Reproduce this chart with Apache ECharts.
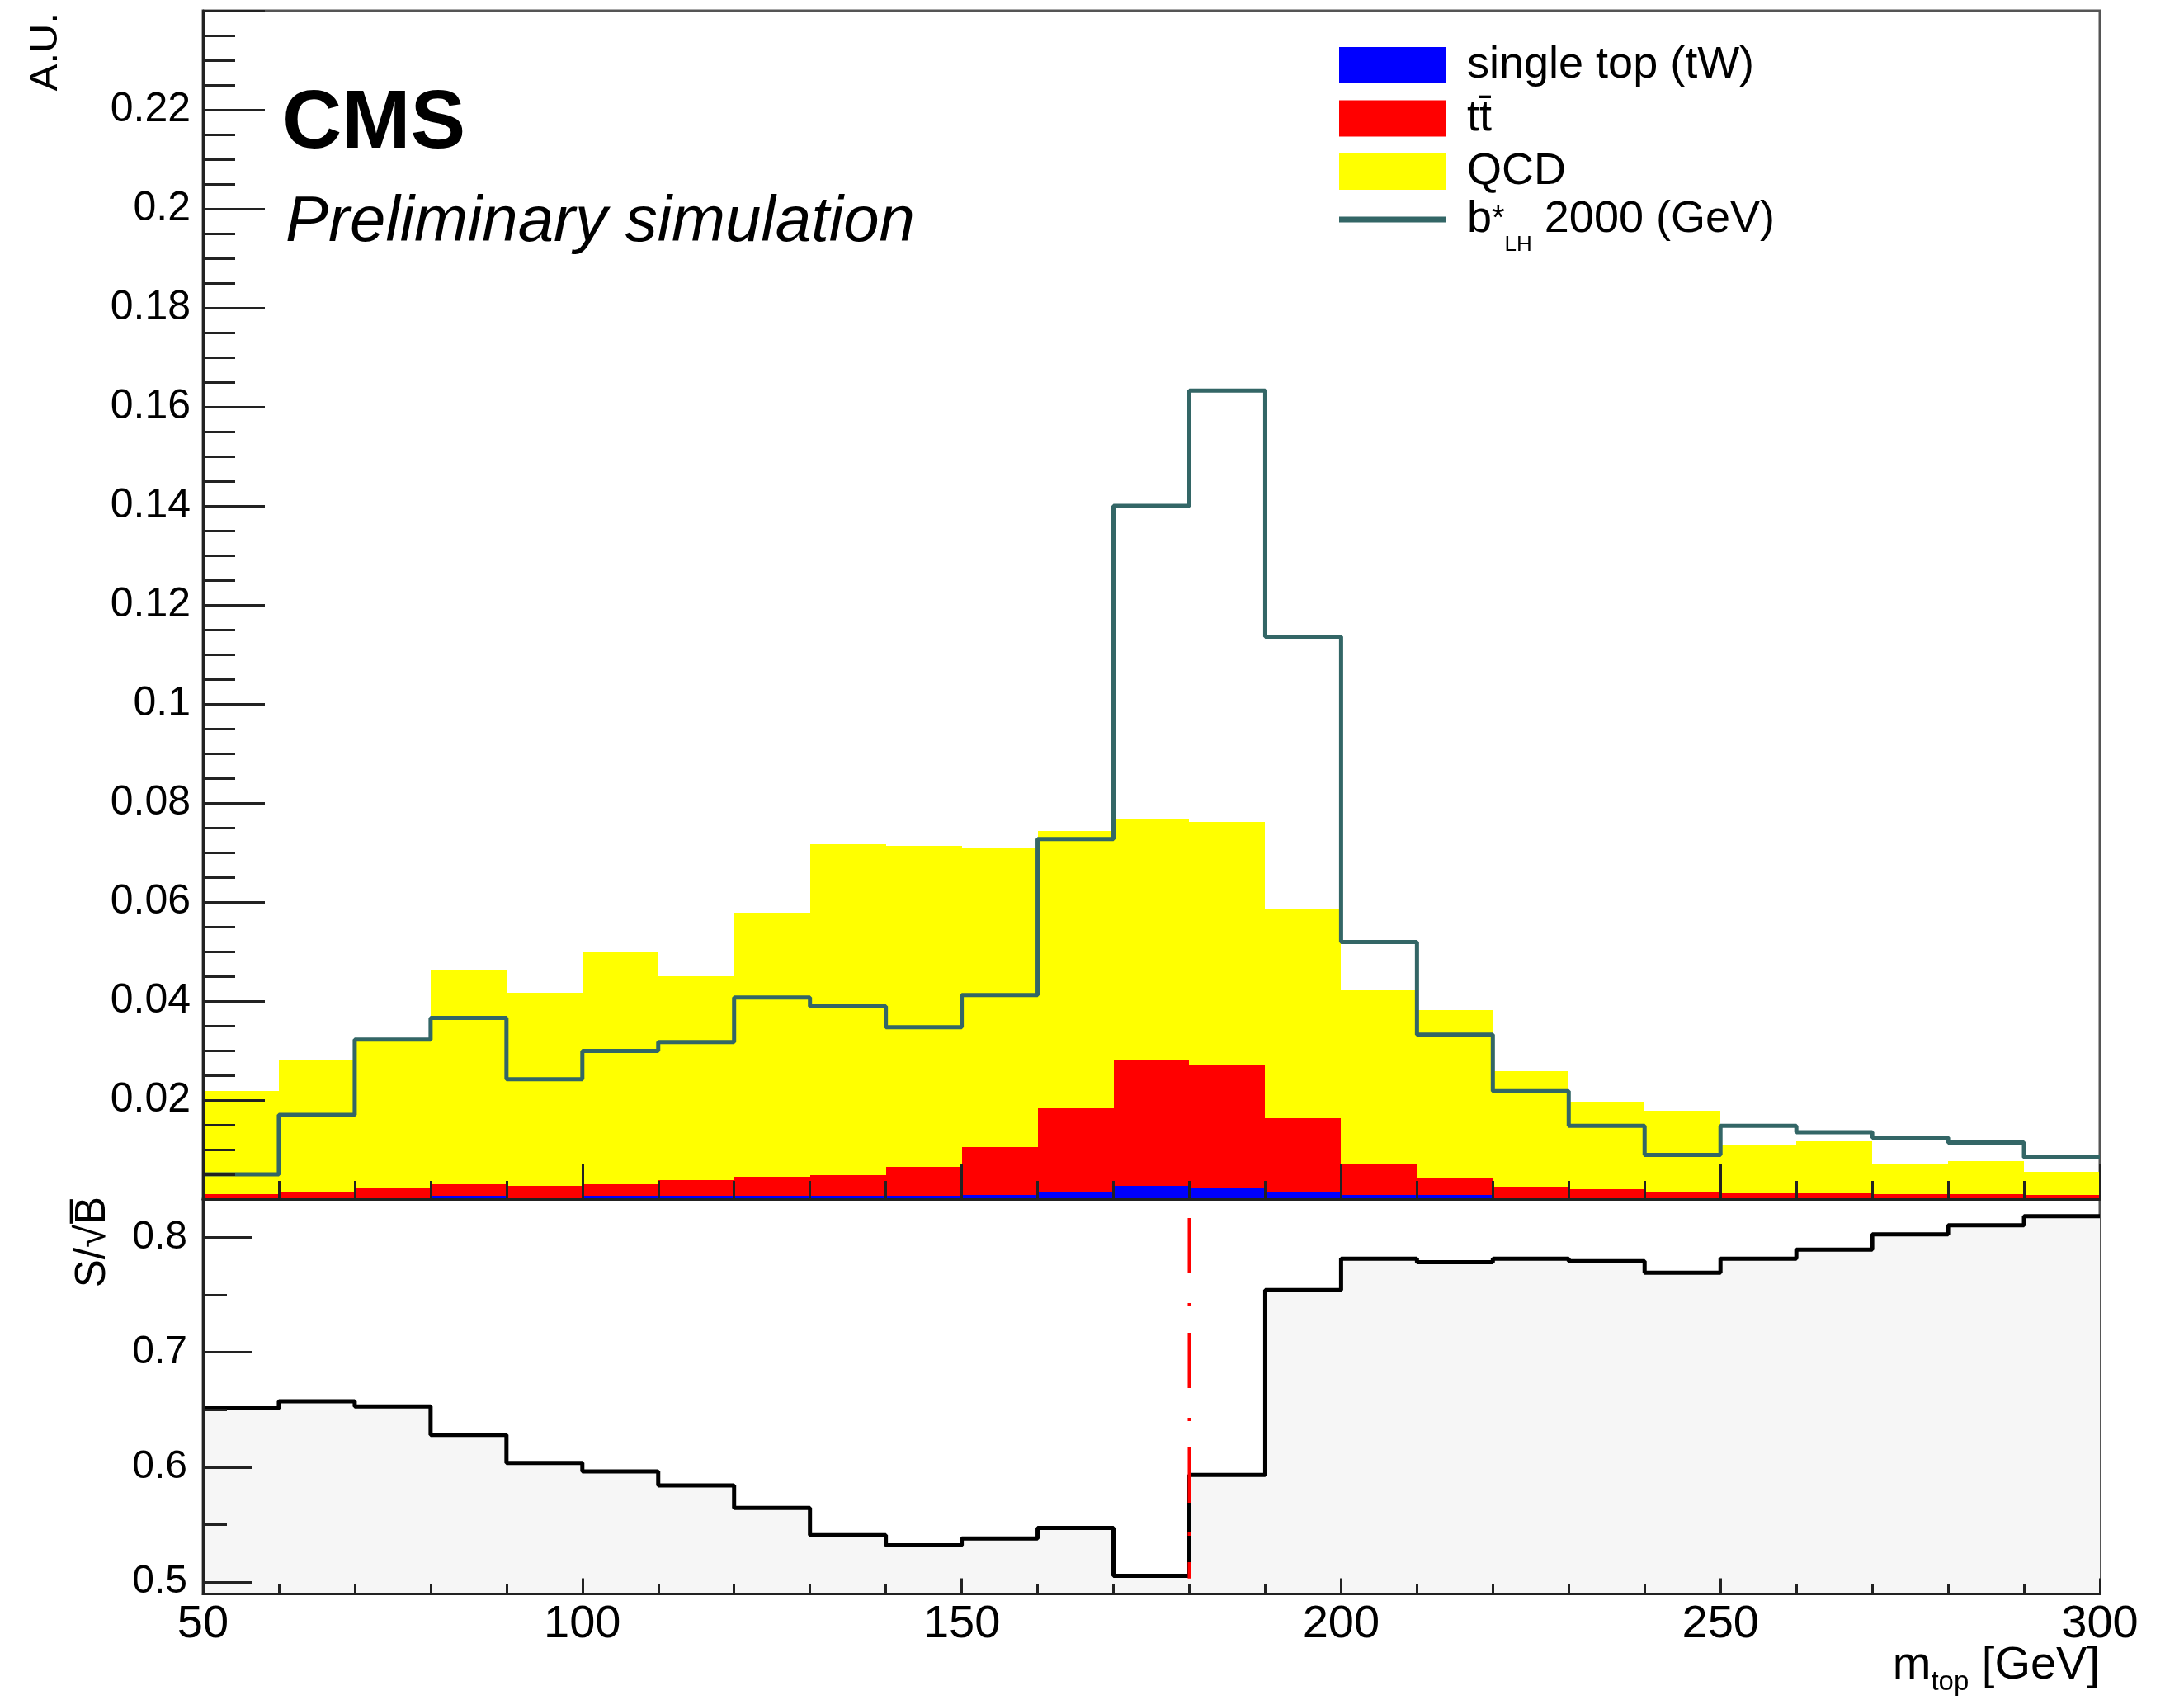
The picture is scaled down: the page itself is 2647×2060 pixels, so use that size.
<!DOCTYPE html>
<html>
<head>
<meta charset="utf-8">
<title>m_top stack and S/sqrt(B)</title>
<script src="https://cdn.jsdelivr.net/npm/echarts@6/dist/echarts.min.js"></script>
<style>
  html, body { margin: 0; padding: 0; background: #fff; }
  #chart { width: 2647px; height: 2060px; }
</style>
</head>
<body>
<div id="chart"></div>
<script>
// m_top bin edges [GeV], 10 GeV bins
var binEdges = [50, 60, 70, 80, 90, 100, 110, 120, 130, 140, 150, 160, 170, 180, 190, 200, 210, 220, 230, 240, 250, 260, 270, 280, 290, 300]

// stacked backgrounds, per bin (A.U.)
var singleTop = [0.0001, 0.0001, 0.0001, 0.0007, 0.0002, 0.0006, 0.0006, 0.0006, 0.0007, 0.0007, 0.0008, 0.0014, 0.0027, 0.0021, 0.0014, 0.0008, 0.0008, 0.0002, 0.0001, 0.0001, 0.0001, 0.0001, 0.0001, 0.0001, 0.0001]
var ttbar = [0.0009, 0.0014, 0.0020, 0.0023, 0.0025, 0.0024, 0.0033, 0.0039, 0.0042, 0.0058, 0.0097, 0.0170, 0.0254, 0.0250, 0.0149, 0.0063, 0.0035, 0.0023, 0.0019, 0.0012, 0.0011, 0.0010, 0.0009, 0.0009, 0.0007]
var qcd = [0.0208, 0.0266, 0.0297, 0.0431, 0.0389, 0.0470, 0.0411, 0.0534, 0.0667, 0.0648, 0.0604, 0.0559, 0.0486, 0.0490, 0.0423, 0.0350, 0.0339, 0.0233, 0.0176, 0.0166, 0.0098, 0.0106, 0.0061, 0.0067, 0.0047]

// b*_LH 2000 GeV signal
var signal = [0.0050, 0.0170, 0.0322, 0.0366, 0.0242, 0.0299, 0.0317, 0.0407, 0.0389, 0.0347, 0.0412, 0.0727, 0.1400, 0.1633, 0.1136, 0.0519, 0.0332, 0.0218, 0.0148, 0.0089, 0.0148, 0.0135, 0.0124, 0.0114, 0.0084]

// lower pad: S/sqrt(B) for a cut at each bin edge
var sOverSqrtB = [0.6513, 0.6573, 0.6528, 0.6280, 0.6037, 0.5962, 0.5841, 0.5644, 0.5408, 0.5320, 0.5378, 0.5471, 0.5053, 0.5932, 0.7543, 0.7815, 0.7785, 0.7815, 0.7794, 0.7694, 0.7815, 0.7894, 0.8027, 0.8106, 0.8185]

// chosen cut
var cutMtop = 180
var cutRange = [0.817, 0.503]

var ratioTicks = [0.5, 0.6, 0.7, 0.8]
var ratioMinorTicks = [0.55, 0.65, 0.75]

var names = ['single top (tW)', 'tt\u0304', 'QCD', 'b*_LH 2000 (GeV)']
var FONT = '"Liberation Sans", Arial, Helvetica, sans-serif'

function stackData(vals, below) {
  return vals.map(function (v, i) {
    var base = 0
    below.forEach(function (arr) { base += arr[i] })
    return [binEdges[i], binEdges[i + 1], base, base + v]
  })
}

function stepData(vals) {
  var pts = vals.map(function (v, i) { return [binEdges[i], v] })
  pts.push([binEdges[vals.length], vals[vals.length - 1]])
  return pts
}

function renderBin(params, api) {
  var p0 = api.coord([api.value(0), api.value(2)])
  var p1 = api.coord([api.value(1), api.value(3)])
  var x0 = Math.round(p0[0]), x1 = Math.round(p1[0])
  var yb = Math.round(p0[1]), yt = Math.round(p1[1])
  return {
    type: 'rect',
    shape: { x: x0, y: yt, width: x1 - x0, height: yb - yt },
    style: { fill: api.visual('color') }
  }
}

var axisLine = { show: true, onZero: false, lineStyle: { color: '#222', width: 3 } }

function tick(len) {
  return { show: true, inside: true, length: len, lineStyle: { color: '#222', width: 3 } }
}

var chart = echarts.init(document.getElementById('chart'))

var option = {
  animation: false,
  backgroundColor: '#fff',
  grid: [
    { left: 246, top: 13, width: 2299, height: 1440, show: true, borderColor: '#555', borderWidth: 3, backgroundColor: 'transparent', outerBoundsMode: 'none' },
    { left: 246, top: 1453, width: 2299, height: 478.5, show: true, borderColor: '#555', borderWidth: 3, backgroundColor: 'transparent', outerBoundsMode: 'none' }
  ],
  xAxis: [
    {
      type: 'value', gridIndex: 0, min: 50, max: 300, interval: 50, z: 10,
      axisLine: axisLine,
      axisTick: tick(42),
      minorTick: { show: true, splitNumber: 5, length: 22, lineStyle: { color: '#222', width: 3 } },
      axisLabel: { show: false },
      splitLine: { show: false }
    },
    {
      type: 'value', gridIndex: 1, min: 50, max: 300, interval: 50, z: 10,
      axisLine: axisLine,
      axisTick: tick(19),
      minorTick: { show: true, splitNumber: 5, length: 12, lineStyle: { color: '#222', width: 3 } },
      axisLabel: { show: true, margin: 9, color: '#000', fontFamily: FONT, fontSize: 56 },
      splitLine: { show: false }
    }
  ],
  yAxis: [
    {
      type: 'value', gridIndex: 0, min: 0, max: 0.24, interval: 0.02, z: 10,
      axisLine: axisLine,
      axisTick: tick(75),
      minorTick: { show: true, splitNumber: 4, length: 39, lineStyle: { color: '#222', width: 3 } },
      axisLabel: { show: true, margin: 15, color: '#000', fontFamily: FONT, fontSize: 50, showMinLabel: false, showMaxLabel: false },
      splitLine: { show: false }
    },
    {
      type: 'value', gridIndex: 1, position: 'left', min: 0.4895, max: 0.8335, z: 10,
      axisLine: axisLine,
      axisTick: { show: true, inside: true, length: 60, customValues: ratioTicks, lineStyle: { color: '#222', width: 3 } },
      axisLabel: { show: true, margin: 19, color: '#000', fontFamily: FONT, fontSize: 48, customValues: ratioTicks },
      splitLine: { show: false }
    },
    {
      type: 'value', gridIndex: 1, position: 'left', min: 0.4895, max: 0.8335, z: 10,
      axisLine: { show: false },
      axisTick: { show: true, inside: true, length: 29, customValues: ratioMinorTicks, lineStyle: { color: '#222', width: 3 } },
      axisLabel: { show: false },
      splitLine: { show: false }
    }
  ],
  legend: [
    {
      orient: 'vertical',
      left: 1618,
      top: 47,
      itemWidth: 130,
      itemHeight: 44,
      itemGap: 10.5,
      selectedMode: false,
      data: [
        { name: names[0], icon: 'rect' },
        { name: names[1], icon: 'rect' },
        { name: names[2], icon: 'rect' }
      ],
      textStyle: { fontFamily: FONT, fontSize: 54, color: '#000', padding: [0, 0, 0, 20] }
    },
    {
      orient: 'vertical',
      left: 1618,
      top: 234,
      itemWidth: 130,
      itemHeight: 44,
      selectedMode: false,
      data: [
        { name: names[3], icon: 'path://M0,0L130,0L130,7L0,7Z' }
      ],
      formatter: function () {
        return '{t|b}{sup|*}{sub|LH}{t| 2000 (GeV)}'
      },
      textStyle: {
        fontFamily: FONT, fontSize: 54, color: '#000', padding: [0, 0, 0, 20],
        rich: {
          t: { fontFamily: FONT, fontSize: 54, color: '#000', lineHeight: 88 },
          sup: { fontFamily: FONT, fontSize: 40, color: '#000', lineHeight: 40, verticalAlign: 'middle' },
          sub: { fontFamily: FONT, fontSize: 26, color: '#000', lineHeight: 26, verticalAlign: 'bottom' }
        }
      }
    }
  ],
  series: [
    {
      name: names[0], type: 'custom', xAxisIndex: 0, yAxisIndex: 0,
      itemStyle: { color: '#0000ff' },
      encode: { x: [0, 1], y: [2, 3] },
      renderItem: renderBin,
      data: stackData(singleTop, [])
    },
    {
      name: names[1], type: 'custom', xAxisIndex: 0, yAxisIndex: 0,
      itemStyle: { color: '#ff0000' },
      encode: { x: [0, 1], y: [2, 3] },
      renderItem: renderBin,
      data: stackData(ttbar, [singleTop])
    },
    {
      name: names[2], type: 'custom', xAxisIndex: 0, yAxisIndex: 0,
      itemStyle: { color: '#ffff00' },
      encode: { x: [0, 1], y: [2, 3] },
      renderItem: renderBin,
      data: stackData(qcd, [singleTop, ttbar])
    },
    {
      name: names[3], type: 'line', xAxisIndex: 0, yAxisIndex: 0,
      step: 'end', symbol: 'none', showSymbol: false, z: 3,
      itemStyle: { color: '#336666' },
      lineStyle: { color: '#336666', width: 5 },
      data: stepData(signal)
    },
    {
      name: 'S/sqrt(B)', type: 'line', xAxisIndex: 1, yAxisIndex: 1,
      step: 'end', symbol: 'none', showSymbol: false, z: 3,
      itemStyle: { color: '#000' },
      lineStyle: { color: '#000', width: 5 },
      areaStyle: { color: '#f6f6f6', opacity: 1 },
      data: stepData(sOverSqrtB)
    },
    {
      name: 'cut', type: 'line', xAxisIndex: 1, yAxisIndex: 1,
      symbol: 'none', showSymbol: false, z: 4,
      lineStyle: { color: '#ff0000', width: 4, type: [67, 36, 4, 32] },
      data: [[cutMtop, cutRange[0]], [cutMtop, cutRange[1]]]
    }
  ],
  graphic: [
    {
      type: 'text', x: 342, y: 151,
      style: { text: 'CMS', fontFamily: FONT, fontWeight: 'bold', fontSize: 100, fill: '#000', verticalAlign: 'middle' }
    },
    {
      type: 'text', x: 346, y: 270,
      style: { text: 'Preliminary simulation', fontFamily: FONT, fontStyle: 'italic', fontSize: 78, fill: '#000', verticalAlign: 'middle' }
    },
    {
      type: 'text', x: 55, y: 15, rotation: Math.PI / 2,
      style: { text: 'A.U.', fontFamily: FONT, fontSize: 49, fill: '#000', align: 'right', verticalAlign: 'middle' }
    },
    {
      type: 'text', x: 113, y: 1450, rotation: Math.PI / 2,
      style: { text: 'S/\u221AB\u0305', fontFamily: FONT, fontSize: 51, fill: '#000', align: 'right', verticalAlign: 'middle' }
    },
    {
      type: 'text', x: 2545, y: 2019,
      style: {
        text: '{m|m}{s|top}{m| [GeV]}', align: 'right', verticalAlign: 'middle',
        rich: {
          m: { fontFamily: FONT, fontSize: 56, fill: '#000', color: '#000', lineHeight: 72 },
          s: { fontFamily: FONT, fontSize: 33, fill: '#000', color: '#000', lineHeight: 33, verticalAlign: 'bottom' }
        }
      }
    }
  ]
}

chart.setOption(option)
</script>
</body>
</html>
